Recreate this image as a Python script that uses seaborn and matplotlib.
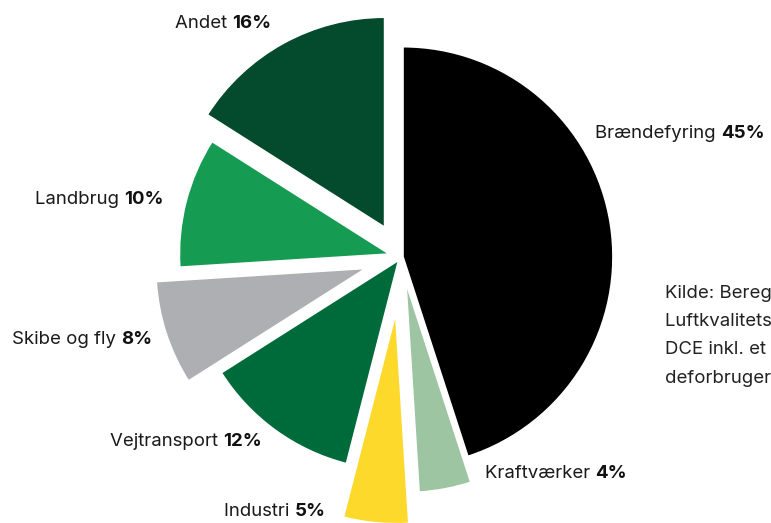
import matplotlib
matplotlib.use("Agg")
import matplotlib.pyplot as plt
import seaborn as sns

# Kilder til partikelforurening (PM2.5), andele i procent
sources = ["Brændefyring", "Kraftværker", "Industri", "Vejtransport",
           "Skibe og fly", "Landbrug", "Andet"]
shares = [45, 4, 5, 12, 8, 10, 16]
colors = ["#000000", "#9dc5a1", "#fcd92b", "#006b3a",
          "#aeafb2", "#169b53", "#034b2c"]

# Forskydning af hvert stykke (pixel) og placering af etiketter (venstre kant, midte)
offsets = [2, 26, 57, 4, 37, 12, 34]
label_pos = [(595, 133), (485, 473), (224, 512), (110, 441),
             (12, 339), (35, 200), (175, 24)]

source_lines = ["Kilde: Beregninger fra",
                "Luftkvalitetsmodellen hos",
                "DCE inkl. et nyt skøn for bræn-",
                "deforbrugere"]

sns.set_theme(style="white")
plt.rcParams["font.family"] = ["Inter", "DejaVu Sans"]

W, H = 771, 523
fig = plt.figure(figsize=(W / 100, H / 100), dpi=100)
ax = fig.add_axes([0, 0, 1, 1])

ax.pie(shares, colors=colors, startangle=90, counterclock=False,
       center=(401, H - 257), radius=210, explode=offsets,
       wedgeprops=dict(edgecolor="white", linewidth=1.2))
ax.set_xlim(0, W)
ax.set_ylim(0, H)
ax.set_aspect("equal")
ax.set_axis_off()

fig.canvas.draw()
renderer = fig.canvas.get_renderer()
fs = 13.4
for name, val, (x, y) in zip(sources, shares, label_pos):
    t = ax.text(x, H - y, name + " ", fontsize=fs, color="#1a1a1a",
                ha="left", va="center", fontweight="normal")
    bb = t.get_window_extent(renderer)
    ax.text(bb.x1, H - y, f"{val}%", fontsize=fs, color="#111111",
            ha="left", va="center", fontweight="bold")

for i, line in enumerate(source_lines):
    ax.text(665, H - (293 + i * 28.5), line, fontsize=fs, color="#222222",
            ha="left", va="center", fontweight="normal")

fig.savefig("out.png", dpi=100, facecolor="white")
